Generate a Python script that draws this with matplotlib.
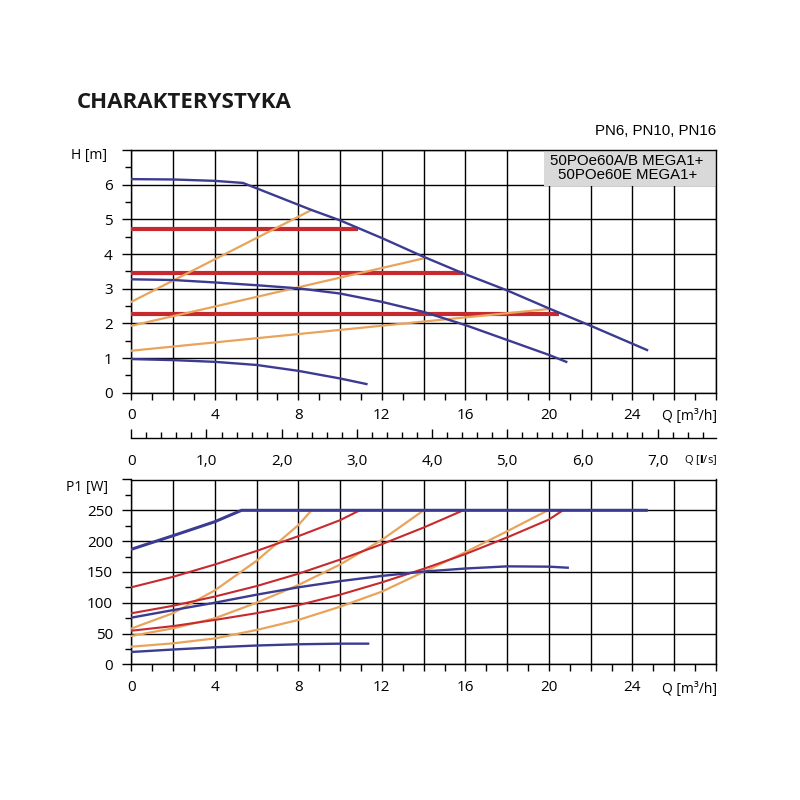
import matplotlib
matplotlib.use("Agg")
import matplotlib.pyplot as plt
from matplotlib.ticker import MultipleLocator, FuncFormatter
from matplotlib.patches import Rectangle

# ---------------- data ----------------
# H(Q) curves, Q in m3/h, H in m
q_hmax = [0, 2, 4, 5.35, 8.63, 10, 12, 14, 15.9, 18, 20, 22, 24.7]
h_hmax = [6.16, 6.15, 6.11, 6.05, 5.27, 4.97, 4.46, 3.92, 3.44, 2.95, 2.43, 1.93, 1.23]
q_hmid = [0, 2, 4, 6, 8, 10, 12, 14, 16, 18, 20, 20.83]
h_hmid = [3.27, 3.25, 3.18, 3.10, 3.01, 2.86, 2.62, 2.33, 1.95, 1.52, 1.09, 0.89]
q_hmin = [0, 2, 4, 6, 8, 10, 11.26]
h_hmin = [0.97, 0.94, 0.89, 0.80, 0.63, 0.41, 0.25]

# constant pressure levels (H) and their end flow
cp_h = [4.71, 3.46, 2.27]
cp_qend = [10.86, 15.9, 20.5]

# proportional pressure lines: start H at Q=0, end (Q, H)
pp_h0 = [2.62, 1.93, 1.21]
pp_qend = [8.63, 13.97, 19.95]
pp_hend = [5.27, 3.87, 2.41]

# P1(Q) curves, W
q_pmax = [0, 2, 4, 5.28, 24.66]
p_pmax = [186.7, 208.8, 231.5, 250, 250]
q_pmid = [0, 2, 4, 6, 8, 10, 12, 14, 16, 18, 20, 20.9]
p_pmid = [75.7, 88, 100, 113, 125, 135, 143.5, 150.5, 155.5, 159, 158.5, 156.8]
q_pmin = [0, 2, 4, 6, 8, 10, 11.34]
p_pmin = [20, 24, 27.6, 30.5, 32.5, 33.5, 33.5]

q_pr1 = [0, 2, 4, 6, 8, 10, 10.94]
p_pr1 = [125, 142, 162, 184, 208, 234, 250]
q_pr2 = [0, 2, 4, 6, 8, 10, 12, 14, 15.9]
p_pr2 = [82.8, 95, 110, 127, 147, 170, 195, 222, 250]
q_pr3 = [0, 2, 4, 6, 8, 10, 12, 14, 16, 18, 20, 20.67]
p_pr3 = [54.5, 62, 72, 83, 96, 113, 133, 155, 179, 206, 235, 250]

q_po1 = [0, 2, 4, 6, 8, 8.63]
p_po1 = [58, 83, 120, 168, 226, 250]
q_po2 = [0, 2, 4, 6, 8, 10, 12, 14]
p_po2 = [46, 58.4, 74.7, 100, 128.7, 162, 202, 250]
q_po3 = [0, 2, 4, 6, 8, 10, 12, 14, 16, 18, 19.95]
p_po3 = [28.6, 34, 42, 55.7, 72, 93.5, 118, 150, 182, 216, 250]

q_labels = [0, 4, 8, 12, 16, 20, 24]
ls_labels = [0, 1, 2, 3, 4, 5, 6, 7]

# ---------------- style ----------------
BLUE = "#3b3b92"
RED = "#c62a2e"
ORANGE = "#e9a45c"
TICKFONT = "Open Sans"
QMAX = 28
LS = 11

fig = plt.figure(figsize=(8, 8), dpi=100)
fig.patch.set_facecolor("white")

def px2fig_x(px):
    return px / 800.0

def px2fig_y(py):
    return 1 - py / 800.0

L, R = 131.3, 716.0
ax_top = fig.add_axes([px2fig_x(L), px2fig_y(392.7), (R - L) / 800, (392.7 - 150) / 800])
ax_bot = fig.add_axes([px2fig_x(L), px2fig_y(664.3), (R - L) / 800, (664.3 - 479.5) / 800])

def style_axes(ax, ymax, ymajor, yminor, ylabmax):
    ax.set_xlim(0, QMAX)
    ax.set_ylim(0, ymax)
    ax.xaxis.set_major_locator(MultipleLocator(2))
    ax.xaxis.set_minor_locator(MultipleLocator(1))
    ax.yaxis.set_major_locator(MultipleLocator(ymajor))
    ax.yaxis.set_minor_locator(MultipleLocator(yminor))
    ax.grid(True, which="major", color="black", lw=1.0, zorder=0)
    for s in ax.spines.values():
        s.set_color("black")
        s.set_linewidth(1.0)
    ax.tick_params(axis="x", which="both", direction="out", length=4.8, width=1.0,
                   pad=6.5, labelsize=LS, colors="black")
    ax.tick_params(axis="y", which="major", direction="out", length=6.8, width=1.0,
                   pad=6.5, labelsize=LS)
    ax.tick_params(axis="y", which="minor", direction="out", length=4.3, width=1.0)
    ax.xaxis.set_major_formatter(FuncFormatter(
        lambda v, p: f"{int(round(v))}" if (round(v) in q_labels) else ""))
    ax.yaxis.set_major_formatter(FuncFormatter(
        lambda v, p: f"{int(round(v))}" if v <= ylabmax + 1e-6 else ""))
    for lab in ax.get_xticklabels() + ax.get_yticklabels():
        lab.set_fontfamily(TICKFONT)

style_axes(ax_top, 7, 1, 0.5, 6)
style_axes(ax_bot, 300, 50, 25, 250)

# ---- top chart curves ----
for qe, h in zip(cp_qend, cp_h):
    ax_top.plot([0, qe], [h, h], color=RED, lw=3.0, solid_capstyle="butt", zorder=3)
for h0, qe, he in zip(pp_h0, pp_qend, pp_hend):
    ax_top.plot([0, qe], [h0, he], color=ORANGE, lw=1.6, zorder=4)
ax_top.plot(q_hmax, h_hmax, color=BLUE, lw=1.7, zorder=5)
ax_top.plot(q_hmid, h_hmid, color=BLUE, lw=1.7, zorder=5)
ax_top.plot(q_hmin, h_hmin, color=BLUE, lw=1.7, zorder=5)

# legend box
ax_top.add_patch(Rectangle((0.705, 0.85), 0.295, 0.15, transform=ax_top.transAxes,
                           facecolor="#d9d9d9", edgecolor="none", zorder=2.5))
ax_top.text(0.848, 0.925, "50POe60A/B MEGA1+\n50POe60E MEGA1+", transform=ax_top.transAxes,
            ha="center", va="center", fontsize=10.8, family="Liberation Sans",
            linespacing=1.0, zorder=6)

# ---- bottom chart curves ----
for q, p in ((q_po1, p_po1), (q_po2, p_po2), (q_po3, p_po3)):
    ax_bot.plot(q, p, color=ORANGE, lw=1.6, zorder=3)
for q, p in ((q_pr1, p_pr1), (q_pr2, p_pr2), (q_pr3, p_pr3)):
    ax_bot.plot(q, p, color=RED, lw=1.5, zorder=4)
ax_bot.plot(q_pmax, p_pmax, color=BLUE, lw=2.2, zorder=5)
ax_bot.plot(q_pmid, p_pmid, color=BLUE, lw=1.7, zorder=5)
ax_bot.plot(q_pmin, p_pmin, color=BLUE, lw=1.7, zorder=5)

# ---- l/s axis ----
ax_ls = fig.add_axes([px2fig_x(L), px2fig_y(437.7), (R - L) / 800, 0.02])
ax_ls.set_xlim(0, QMAX / 3.6)
ax_ls.set_ylim(0, 1)
for k in ("top", "left", "right"):
    ax_ls.spines[k].set_visible(False)
ax_ls.spines["bottom"].set_linewidth(1.0)
ax_ls.patch.set_visible(False)
ax_ls.set_yticks([])
ax_ls.set_xticks(ls_labels)
ax_ls.set_xticklabels(["0"] + [f"{v},0" for v in ls_labels[1:]], fontfamily=TICKFONT)
ax_ls.xaxis.set_minor_locator(MultipleLocator(0.2))
ax_ls.tick_params(axis="x", which="major", direction="in", length=6.5, width=1.0,
                  pad=11.5, labelsize=LS)
ax_ls.tick_params(axis="x", which="minor", direction="in", length=4, width=1.0)

# ---- texts ----
fig.text(77 / 800, px2fig_y(103), "CHARAKTERYSTYKA", fontsize=16, fontweight="bold",
         family="Open Sans", ha="left", va="center", color="#1a1a1a")
fig.text(716 / 800, px2fig_y(131), "PN6, PN10, PN16", fontsize=10.8,
         family="Liberation Sans", ha="right", va="center")
fig.text(107 / 800, px2fig_y(155), "H [m]", fontsize=10, family=TICKFONT,
         ha="right", va="center")
fig.text(108 / 800, px2fig_y(487), "P1 [W]", fontsize=10, family=TICKFONT,
         ha="right", va="center")
fig.text(717 / 800, px2fig_y(416.7), "Q [m³/h]", fontsize=10, family=TICKFONT,
         ha="right", va="center")
fig.text(717 / 800, px2fig_y(690), "Q [m³/h]", fontsize=10, family=TICKFONT,
         ha="right", va="center")
fig.text(717 / 800, px2fig_y(460), "Q [$\\mathbf{l}$/s]", fontsize=8, family=TICKFONT,
         ha="right", va="center")

fig.savefig("out.png", dpi=100, facecolor="white")
